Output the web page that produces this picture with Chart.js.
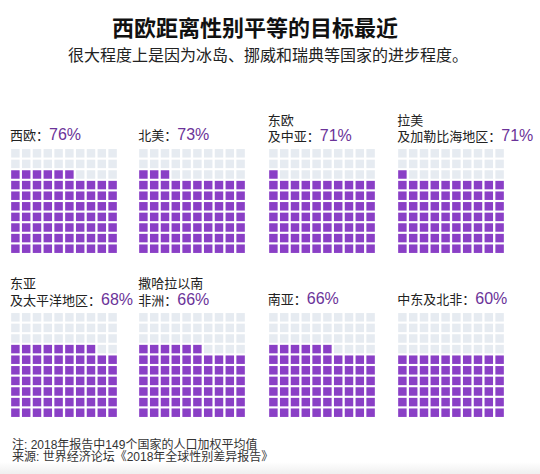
<!DOCTYPE html>
<html>
<head>
<meta charset="utf-8">
<script src="https://cdn.jsdelivr.net/npm/chart.js@4.4.1/dist/chart.umd.min.js"></script>
<style>
  html, body { margin: 0; padding: 0; }
  body { width: 540px; height: 474px; position: relative; background: #fff; overflow: hidden;
         font-family: "Liberation Sans", "Noto Sans CJK SC", sans-serif; color: #222; }
  .abs { position: absolute; white-space: nowrap; }
  #title { left: 112px; top: 13px; font-family: "Noto Sans CJK SC", sans-serif; font-weight: 700;
           font-size: 22px; line-height: 26px; color: #111; }
  #subtitle { left: 68px; top: 43px; font-family: "Noto Sans CJK SC", sans-serif; font-size: 16px;
              line-height: 22px; color: #222; }
  .label { font-size: 13px; line-height: 15.5px; color: #222; }
  .label .cn { font-family: "Noto Sans CJK SC", sans-serif; }
  .label .pct { font-size: 16px; color: #6b3399; font-family: "Liberation Sans", sans-serif; }
  #note { left: 12px; top: 438.5px; font-size: 12px; line-height: 12.5px; color: #333;
          font-family: "Liberation Sans", "Noto Sans CJK SC", sans-serif; }
  canvas.grid { position: absolute; }
  #shade { position: absolute; left: 0; top: 462px; width: 540px; height: 12px;
           background: linear-gradient(#ffffff, #efefef); }
</style>
</head>
<body>
<div id="title" class="abs">西欧距离性别平等的目标最近</div>
<div id="subtitle" class="abs">很大程度上是因为冰岛、挪威和瑞典等国家的进步程度。</div>
<div id="note" class="abs">注: 2018年报告中149个国家的人口加权平均值<br>来源: 世界经济论坛《2018年全球性别差异报告》</div>
<div id="shade"></div>

<script>
// ---- data ----
const regionNames = [
  ['西欧'],
  ['北美'],
  ['东欧', '及中亚'],
  ['拉美', '及加勒比海地区'],
  ['东亚', '及太平洋地区'],
  ['撒哈拉以南', '非洲'],
  ['南亚'],
  ['中东及北非']
];
const scoreValues = [76, 73, 71, 71, 68, 66, 66, 60];
const cellTotal = 100;

// ---- style / layout ----
const FILL = '#8a3fc6';
const EMPTY = '#e6ebf1';
const colLefts = [11, 139.3, 268.8, 398.3];
const rowGridTops = [149.3, 313.3];
const rowLabelLastCenter = [135, 298.5];
const LINE_H = 15.5;
const CANVAS_W = 108, CANVAS_H = 106;

regionNames.forEach((lines, i) => {
  const col = i % 4, row = Math.floor(i / 4);
  // label
  const lab = document.createElement('div');
  lab.className = 'abs label';
  const n = lines.length;
  lab.style.left = (colLefts[col] - 1) + 'px';
  lab.style.top = (rowLabelLastCenter[row] - (n - 1) * LINE_H - LINE_H / 2) + 'px';
  let html = '';
  lines.forEach((t, j) => {
    if (j < n - 1) html += '<span class="cn">' + t + '</span><br>';
    else html += '<span class="cn">' + t + '：</span><span class="pct">' + scoreValues[i] + '%</span>';
  });
  lab.innerHTML = html;
  document.body.appendChild(lab);

  // waffle grid
  const cv = document.createElement('canvas');
  cv.className = 'grid';
  cv.width = CANVAS_W; cv.height = CANVAS_H;
  cv.style.width = CANVAS_W + 'px'; cv.style.height = CANVAS_H + 'px';
  cv.style.left = Math.round(colLefts[col] - 1.15) + 'px';
  cv.style.top = Math.round(rowGridTops[row] - 1.05) + 'px';
  document.body.appendChild(cv);

  const filled = [], empty = [];
  for (let k = 0; k < cellTotal; k++) {
    const pt = { x: k % 10, y: Math.floor(k / 10) };
    (k < scoreValues[i] ? filled : empty).push(pt);
  }
  new Chart(cv, {
    type: 'scatter',
    data: {
      datasets: [
        { data: filled, backgroundColor: FILL, pointStyle: 'rect', pointRadius: 6,
          pointHoverRadius: 6, pointBorderWidth: 0, borderWidth: 0, clip: false },
        { data: empty, backgroundColor: EMPTY, pointStyle: 'rect', pointRadius: 6,
          pointHoverRadius: 6, pointBorderWidth: 0, borderWidth: 0, clip: false }
      ]
    },
    options: {
      responsive: false,
      devicePixelRatio: 1,
      animation: false,
      events: [],
      layout: { padding: 0, autoPadding: false },
      scales: {
        x: { type: 'linear', min: -0.5, max: 9.5, display: false },
        y: { type: 'linear', min: -0.5, max: 9.5, display: false }
      },
      plugins: { legend: { display: false }, tooltip: { enabled: false } }
    }
  });
});
</script>
</body>
</html>
